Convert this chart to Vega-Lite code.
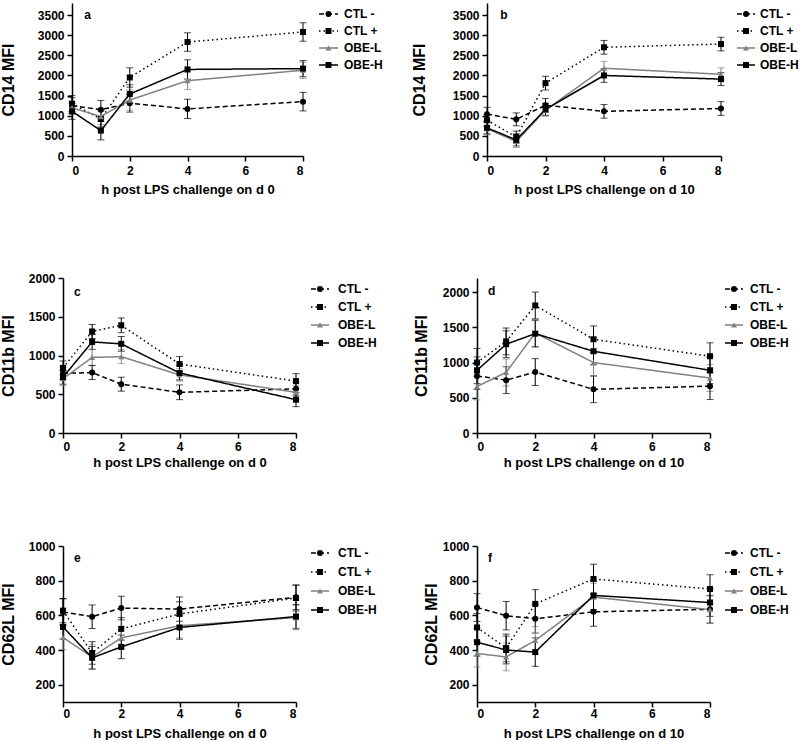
{
"$schema": "https://vega.github.io/schema/vega-lite/v6.json",
"padding": {"left": 0, "top": 3, "right": 0, "bottom": 0},
"background": "white",
"config": {
  "view": {"stroke": null},
  "font": "Liberation Sans",
  "axis": {"grid": false, "domainColor": "#000", "domainWidth": 1.5, "tickColor": "#000", "tickWidth": 1.5, "tickSize": 5, "labelColor": "#000", "labelFontSize": 12, "labelFontWeight": "bold", "labelFont": "Liberation Sans", "titleColor": "#000", "titleFont": "Liberation Sans", "titleFontWeight": "bold", "labelOverlap": false},
  "axisX": {"titleFontSize": 13, "labelAngle": 0},
  "axisY": {"titleFontSize": 16, "labelPadding": 3, "format": "d"}
},
"datasets": {
  "lg": [{"s": "CTL -", "o": 0}, {"s": "CTL +", "o": 1}, {"s": "OBE-L", "o": 2}, {"s": "OBE-H", "o": 3}],
  "sp": [{"k": 0}],
  "d": [
    {"p":"a","s":"CTL -","h":0,"v":1250,"e":200},{"p":"a","s":"CTL -","h":1,"v":1150,"e":230},{"p":"a","s":"CTL -","h":2,"v":1310,"e":220},{"p":"a","s":"CTL -","h":4,"v":1170,"e":240},{"p":"a","s":"CTL -","h":8,"v":1350,"e":230},
    {"p":"a","s":"CTL +","h":0,"v":1300,"e":200},{"p":"a","s":"CTL +","h":1,"v":920,"e":200},{"p":"a","s":"CTL +","h":2,"v":1950,"e":240},{"p":"a","s":"CTL +","h":4,"v":2830,"e":230},{"p":"a","s":"CTL +","h":8,"v":3080,"e":230},
    {"p":"a","s":"OBE-L","h":0,"v":1200,"e":150},{"p":"a","s":"OBE-L","h":1,"v":980,"e":200},{"p":"a","s":"OBE-L","h":2,"v":1390,"e":250},{"p":"a","s":"OBE-L","h":4,"v":1870,"e":220},{"p":"a","s":"OBE-L","h":8,"v":2130,"e":200},
    {"p":"a","s":"OBE-H","h":0,"v":1110,"e":200},{"p":"a","s":"OBE-H","h":1,"v":630,"e":230},{"p":"a","s":"OBE-H","h":2,"v":1540,"e":230},{"p":"a","s":"OBE-H","h":4,"v":2150,"e":240},{"p":"a","s":"OBE-H","h":8,"v":2170,"e":200},
    {"p":"b","s":"CTL -","h":0,"v":1040,"e":170},{"p":"b","s":"CTL -","h":1,"v":910,"e":160},{"p":"b","s":"CTL -","h":2,"v":1260,"e":170},{"p":"b","s":"CTL -","h":4,"v":1110,"e":170},{"p":"b","s":"CTL -","h":8,"v":1180,"e":170},
    {"p":"b","s":"CTL +","h":0,"v":890,"e":150},{"p":"b","s":"CTL +","h":1,"v":470,"e":150},{"p":"b","s":"CTL +","h":2,"v":1810,"e":170},{"p":"b","s":"CTL +","h":4,"v":2700,"e":170},{"p":"b","s":"CTL +","h":8,"v":2780,"e":170},
    {"p":"b","s":"OBE-L","h":0,"v":680,"e":150},{"p":"b","s":"OBE-L","h":1,"v":360,"e":150},{"p":"b","s":"OBE-L","h":2,"v":1140,"e":150},{"p":"b","s":"OBE-L","h":4,"v":2180,"e":170},{"p":"b","s":"OBE-L","h":8,"v":2030,"e":160},
    {"p":"b","s":"OBE-H","h":0,"v":700,"e":150},{"p":"b","s":"OBE-H","h":1,"v":400,"e":150},{"p":"b","s":"OBE-H","h":2,"v":1160,"e":150},{"p":"b","s":"OBE-H","h":4,"v":2000,"e":170},{"p":"b","s":"OBE-H","h":8,"v":1910,"e":160},
    {"p":"c","s":"CTL -","h":0,"v":770,"e":80},{"p":"c","s":"CTL -","h":1,"v":780,"e":90},{"p":"c","s":"CTL -","h":2,"v":630,"e":90},{"p":"c","s":"CTL -","h":4,"v":525,"e":95},{"p":"c","s":"CTL -","h":8,"v":570,"e":90},
    {"p":"c","s":"CTL +","h":0,"v":840,"e":90},{"p":"c","s":"CTL +","h":1,"v":1310,"e":90},{"p":"c","s":"CTL +","h":2,"v":1390,"e":95},{"p":"c","s":"CTL +","h":4,"v":890,"e":95},{"p":"c","s":"CTL +","h":8,"v":670,"e":95},
    {"p":"c","s":"OBE-L","h":0,"v":700,"e":90},{"p":"c","s":"OBE-L","h":1,"v":975,"e":100},{"p":"c","s":"OBE-L","h":2,"v":985,"e":90},{"p":"c","s":"OBE-L","h":4,"v":750,"e":80},{"p":"c","s":"OBE-L","h":8,"v":525,"e":90},
    {"p":"c","s":"OBE-H","h":0,"v":720,"e":90},{"p":"c","s":"OBE-H","h":1,"v":1175,"e":95},{"p":"c","s":"OBE-H","h":2,"v":1150,"e":95},{"p":"c","s":"OBE-H","h":4,"v":775,"e":90},{"p":"c","s":"OBE-H","h":8,"v":430,"e":90},
    {"p":"d","s":"CTL -","h":0,"v":810,"e":190},{"p":"d","s":"CTL -","h":1,"v":750,"e":190},{"p":"d","s":"CTL -","h":2,"v":865,"e":190},{"p":"d","s":"CTL -","h":4,"v":620,"e":190},{"p":"d","s":"CTL -","h":8,"v":665,"e":190},
    {"p":"d","s":"CTL +","h":0,"v":1000,"e":200},{"p":"d","s":"CTL +","h":1,"v":1300,"e":190},{"p":"d","s":"CTL +","h":2,"v":1810,"e":190},{"p":"d","s":"CTL +","h":4,"v":1330,"e":190},{"p":"d","s":"CTL +","h":8,"v":1090,"e":190},
    {"p":"d","s":"OBE-L","h":0,"v":660,"e":190},{"p":"d","s":"OBE-L","h":1,"v":860,"e":190},{"p":"d","s":"OBE-L","h":2,"v":1420,"e":190},{"p":"d","s":"OBE-L","h":4,"v":1000,"e":190},{"p":"d","s":"OBE-L","h":8,"v":780,"e":190},
    {"p":"d","s":"OBE-H","h":0,"v":890,"e":190},{"p":"d","s":"OBE-H","h":1,"v":1260,"e":190},{"p":"d","s":"OBE-H","h":2,"v":1410,"e":190},{"p":"d","s":"OBE-H","h":4,"v":1160,"e":190},{"p":"d","s":"OBE-H","h":8,"v":890,"e":190},
    {"p":"e","s":"CTL -","h":0,"v":620,"e":75},{"p":"e","s":"CTL -","h":1,"v":592,"e":68},{"p":"e","s":"CTL -","h":2,"v":642,"e":68},{"p":"e","s":"CTL -","h":4,"v":636,"e":70},{"p":"e","s":"CTL -","h":8,"v":704,"e":70},
    {"p":"e","s":"CTL +","h":0,"v":627,"e":70},{"p":"e","s":"CTL +","h":1,"v":383,"e":65},{"p":"e","s":"CTL +","h":2,"v":522,"e":65},{"p":"e","s":"CTL +","h":4,"v":608,"e":70},{"p":"e","s":"CTL +","h":8,"v":700,"e":75},
    {"p":"e","s":"OBE-L","h":0,"v":472,"e":70},{"p":"e","s":"OBE-L","h":1,"v":360,"e":70},{"p":"e","s":"OBE-L","h":2,"v":470,"e":65},{"p":"e","s":"OBE-L","h":4,"v":540,"e":70},{"p":"e","s":"OBE-L","h":8,"v":587,"e":70},
    {"p":"e","s":"OBE-H","h":0,"v":533,"e":70},{"p":"e","s":"OBE-H","h":1,"v":355,"e":65},{"p":"e","s":"OBE-H","h":2,"v":418,"e":68},{"p":"e","s":"OBE-H","h":4,"v":530,"e":68},{"p":"e","s":"OBE-H","h":8,"v":593,"e":70},
    {"p":"f","s":"CTL -","h":0,"v":645,"e":80},{"p":"f","s":"CTL -","h":1,"v":598,"e":82},{"p":"f","s":"CTL -","h":2,"v":580,"e":82},{"p":"f","s":"CTL -","h":4,"v":620,"e":83},{"p":"f","s":"CTL -","h":8,"v":635,"e":80},
    {"p":"f","s":"CTL +","h":0,"v":530,"e":80},{"p":"f","s":"CTL +","h":1,"v":412,"e":80},{"p":"f","s":"CTL +","h":2,"v":666,"e":82},{"p":"f","s":"CTL +","h":4,"v":810,"e":85},{"p":"f","s":"CTL +","h":8,"v":752,"e":82},
    {"p":"f","s":"OBE-L","h":0,"v":380,"e":78},{"p":"f","s":"OBE-L","h":1,"v":360,"e":80},{"p":"f","s":"OBE-L","h":2,"v":455,"e":80},{"p":"f","s":"OBE-L","h":4,"v":705,"e":80},{"p":"f","s":"OBE-L","h":8,"v":633,"e":78},
    {"p":"f","s":"OBE-H","h":0,"v":445,"e":80},{"p":"f","s":"OBE-H","h":1,"v":400,"e":80},{"p":"f","s":"OBE-H","h":2,"v":388,"e":82},{"p":"f","s":"OBE-H","h":4,"v":715,"e":82},{"p":"f","s":"OBE-H","h":8,"v":674,"e":80}
  ]
},
"columns": 1,
"align": "none",
"spacing": 60,
"concat": [
 {"hconcat": [
  {"width": 9, "height": 10, "data": {"name": "sp"}, "mark": {"type": "point", "opacity": 0}, "encoding": {}},
  {"width": 231, "height": 153,
   "layer": [
    {"data": {"name": "d"}, "transform": [{"filter": "datum.p == 'a'"}],
     "encoding": {
       "x": {"field": "h", "type": "quantitative", "scale": {"domain": [0, 8], "nice": false, "zero": false}, "axis": {"values": [0, 2, 4, 6, 8], "title": "h post LPS challenge on d 0", "labelPadding": 4, "titlePadding": 7}},
       "y": {"field": "v", "type": "quantitative", "scale": {"domain": [0, 3800], "nice": false, "zero": false}, "axis": {"values": [0, 500, 1000, 1500, 2000, 2500, 3000, 3500], "title": "CD14 MFI", "titlePadding": 21}},
       "color": {"field": "s", "type": "nominal", "scale": {"domain": ["CTL -", "CTL +", "OBE-L", "OBE-H"], "range": ["#000000", "#000000", "#808080", "#000000"]}, "legend": null}},
     "layer": [
       {"mark": {"type": "errorbar", "ticks": {"size": 7, "thickness": 1}, "thickness": 1}, "encoding": {"yError": {"field": "e"}}},
       {"mark": {"type": "line", "strokeWidth": 1.5}, "encoding": {"strokeDash": {"field": "s", "type": "nominal", "scale": {"domain": ["CTL -", "CTL +", "OBE-L", "OBE-H"], "range": [[5, 3], [1.5, 3], [1, 0], [1, 0]]}, "legend": null}}},
       {"mark": {"type": "point", "filled": true, "opacity": 1, "size": 36}, "encoding": {"shape": {"field": "s", "type": "nominal", "scale": {"domain": ["CTL -", "CTL +", "OBE-L", "OBE-H"], "range": ["circle", "square", "triangle-up", "square"]}, "legend": null}}}
     ]},
    {"data": {"values": [{"t": "a"}]}, "mark": {"type": "text", "align": "left", "baseline": "middle", "fontSize": 12, "fontWeight": "bold", "color": "#000"},
     "encoding": {"x": {"datum": 0.42, "type": "quantitative", "axis": {"values": [0, 2, 4, 6, 8], "title": "h post LPS challenge on d 0", "labelPadding": 4, "titlePadding": 7}}, "y": {"datum": 3500, "type": "quantitative", "axis": {"values": [0, 500, 1000, 1500, 2000, 2500, 3000, 3500], "title": "CD14 MFI", "titlePadding": 21}}, "text": {"field": "t"}}}
   ]},
  {"width": 152, "height": 209, "data": {"name": "lg"},
   "encoding": {"y": {"field": "o", "type": "quantitative", "scale": {"domain": [-0.647, 11.647], "reverse": true, "nice": false, "zero": false}, "axis": null},
     "color": {"field": "s", "type": "nominal", "scale": {"domain": ["CTL -", "CTL +", "OBE-L", "OBE-H"], "range": ["#000000", "#000000", "#808080", "#000000"]}, "legend": null}},
   "layer": [
     {"mark": {"type": "rule", "strokeWidth": 1.5}, "encoding": {"x": {"datum": 0, "type": "quantitative", "scale": {"domain": [0, 152], "nice": false, "zero": false}, "axis": null}, "x2": {"datum": 19}, "strokeDash": {"field": "s", "type": "nominal", "scale": {"domain": ["CTL -", "CTL +", "OBE-L", "OBE-H"], "range": [[5, 3], [1.5, 3], [1, 0], [1, 0]]}, "legend": null}}},
     {"mark": {"type": "point", "filled": true, "opacity": 1, "size": 36}, "encoding": {"x": {"datum": 9.5, "type": "quantitative", "axis": null}, "shape": {"field": "s", "type": "nominal", "scale": {"domain": ["CTL -", "CTL +", "OBE-L", "OBE-H"], "range": ["circle", "square", "triangle-up", "square"]}, "legend": null}}},
     {"mark": {"type": "text", "align": "left", "baseline": "middle", "fontSize": 12, "fontWeight": "bold", "color": "#000"}, "encoding": {"x": {"datum": 25, "type": "quantitative", "axis": null}, "text": {"field": "s"}, "color": {"value": "#000"}}}
   ]},
  {"width": 234, "height": 153,
   "layer": [
    {"data": {"name": "d"}, "transform": [{"filter": "datum.p == 'b'"}],
     "encoding": {
       "x": {"field": "h", "type": "quantitative", "scale": {"domain": [0, 8], "nice": false, "zero": false}, "axis": {"values": [0, 2, 4, 6, 8], "title": "h post LPS challenge on d 10", "labelPadding": 4, "titlePadding": 7}},
       "y": {"field": "v", "type": "quantitative", "scale": {"domain": [0, 3800], "nice": false, "zero": false}, "axis": {"values": [0, 500, 1000, 1500, 2000, 2500, 3000, 3500], "title": "CD14 MFI", "titlePadding": 25}},
       "color": {"field": "s", "type": "nominal", "scale": {"domain": ["CTL -", "CTL +", "OBE-L", "OBE-H"], "range": ["#000000", "#000000", "#808080", "#000000"]}, "legend": null}},
     "layer": [
       {"mark": {"type": "errorbar", "ticks": {"size": 7, "thickness": 1}, "thickness": 1}, "encoding": {"yError": {"field": "e"}}},
       {"mark": {"type": "line", "strokeWidth": 1.5}, "encoding": {"strokeDash": {"field": "s", "type": "nominal", "scale": {"domain": ["CTL -", "CTL +", "OBE-L", "OBE-H"], "range": [[5, 3], [1.5, 3], [1, 0], [1, 0]]}, "legend": null}}},
       {"mark": {"type": "point", "filled": true, "opacity": 1, "size": 36}, "encoding": {"shape": {"field": "s", "type": "nominal", "scale": {"domain": ["CTL -", "CTL +", "OBE-L", "OBE-H"], "range": ["circle", "square", "triangle-up", "square"]}, "legend": null}}}
     ]},
    {"data": {"values": [{"t": "b"}]}, "mark": {"type": "text", "align": "left", "baseline": "middle", "fontSize": 12, "fontWeight": "bold", "color": "#000"},
     "encoding": {"x": {"datum": 0.45, "type": "quantitative", "axis": {"values": [0, 2, 4, 6, 8], "title": "h post LPS challenge on d 10", "labelPadding": 4, "titlePadding": 7}}, "y": {"datum": 3500, "type": "quantitative", "axis": {"values": [0, 500, 1000, 1500, 2000, 2500, 3000, 3500], "title": "CD14 MFI", "titlePadding": 25}}, "text": {"field": "t"}}}
   ]},
  {"width": 58, "height": 209, "data": {"name": "lg"},
   "encoding": {"y": {"field": "o", "type": "quantitative", "scale": {"domain": [-0.647, 11.647], "reverse": true, "nice": false, "zero": false}, "axis": null},
     "color": {"field": "s", "type": "nominal", "scale": {"domain": ["CTL -", "CTL +", "OBE-L", "OBE-H"], "range": ["#000000", "#000000", "#808080", "#000000"]}, "legend": null}},
   "layer": [
     {"mark": {"type": "rule", "strokeWidth": 1.5}, "encoding": {"x": {"datum": 0, "type": "quantitative", "scale": {"domain": [0, 58], "nice": false, "zero": false}, "axis": null}, "x2": {"datum": 18}, "strokeDash": {"field": "s", "type": "nominal", "scale": {"domain": ["CTL -", "CTL +", "OBE-L", "OBE-H"], "range": [[5, 3], [1.5, 3], [1, 0], [1, 0]]}, "legend": null}}},
     {"mark": {"type": "point", "filled": true, "opacity": 1, "size": 36}, "encoding": {"x": {"datum": 9, "type": "quantitative", "axis": null}, "shape": {"field": "s", "type": "nominal", "scale": {"domain": ["CTL -", "CTL +", "OBE-L", "OBE-H"], "range": ["circle", "square", "triangle-up", "square"]}, "legend": null}}},
     {"mark": {"type": "text", "align": "left", "baseline": "middle", "fontSize": 12, "fontWeight": "bold", "color": "#000"}, "encoding": {"x": {"datum": 23, "type": "quantitative", "axis": null}, "text": {"field": "s"}, "color": {"value": "#000"}}}
   ]}
 ], "spacing": 16, "bounds": "flush"},
 {"hconcat": [
  {"width": 1, "height": 10, "data": {"name": "sp"}, "mark": {"type": "point", "opacity": 0}, "encoding": {}},
  {"width": 233, "height": 155,
   "layer": [
    {"data": {"name": "d"}, "transform": [{"filter": "datum.p == 'c'"}],
     "encoding": {
       "x": {"field": "h", "type": "quantitative", "scale": {"domain": [0, 8], "nice": false, "zero": false}, "axis": {"values": [0, 2, 4, 6, 8], "title": "h post LPS challenge on d 0", "labelPadding": 3, "titlePadding": 4}},
       "y": {"field": "v", "type": "quantitative", "scale": {"domain": [0, 2000], "nice": false, "zero": false}, "axis": {"values": [0, 500, 1000, 1500, 2000], "title": "CD11b MFI", "titlePadding": 12}},
       "color": {"field": "s", "type": "nominal", "scale": {"domain": ["CTL -", "CTL +", "OBE-L", "OBE-H"], "range": ["#000000", "#000000", "#808080", "#000000"]}, "legend": null}},
     "layer": [
       {"mark": {"type": "errorbar", "ticks": {"size": 7, "thickness": 1}, "thickness": 1}, "encoding": {"yError": {"field": "e"}}},
       {"mark": {"type": "line", "strokeWidth": 1.5}, "encoding": {"strokeDash": {"field": "s", "type": "nominal", "scale": {"domain": ["CTL -", "CTL +", "OBE-L", "OBE-H"], "range": [[5, 3], [1.5, 3], [1, 0], [1, 0]]}, "legend": null}}},
       {"mark": {"type": "point", "filled": true, "opacity": 1, "size": 36}, "encoding": {"shape": {"field": "s", "type": "nominal", "scale": {"domain": ["CTL -", "CTL +", "OBE-L", "OBE-H"], "range": ["circle", "square", "triangle-up", "square"]}, "legend": null}}}
     ]},
    {"data": {"values": [{"t": "c"}]}, "mark": {"type": "text", "align": "left", "baseline": "middle", "fontSize": 12, "fontWeight": "bold", "color": "#000"},
     "encoding": {"x": {"datum": 0.38, "type": "quantitative", "axis": {"values": [0, 2, 4, 6, 8], "title": "h post LPS challenge on d 0", "labelPadding": 3, "titlePadding": 4}}, "y": {"datum": 1820, "type": "quantitative", "axis": {"values": [0, 500, 1000, 1500, 2000], "title": "CD11b MFI", "titlePadding": 12}}, "text": {"field": "t"}}}
   ]},
  {"width": 151, "height": 202, "data": {"name": "lg"},
   "encoding": {"y": {"field": "o", "type": "quantitative", "scale": {"domain": [-0.611, 10.611], "reverse": true, "nice": false, "zero": false}, "axis": null},
     "color": {"field": "s", "type": "nominal", "scale": {"domain": ["CTL -", "CTL +", "OBE-L", "OBE-H"], "range": ["#000000", "#000000", "#808080", "#000000"]}, "legend": null}},
   "layer": [
     {"mark": {"type": "rule", "strokeWidth": 1.5}, "encoding": {"x": {"datum": 0, "type": "quantitative", "scale": {"domain": [0, 151], "nice": false, "zero": false}, "axis": null}, "x2": {"datum": 18}, "strokeDash": {"field": "s", "type": "nominal", "scale": {"domain": ["CTL -", "CTL +", "OBE-L", "OBE-H"], "range": [[5, 3], [1.5, 3], [1, 0], [1, 0]]}, "legend": null}}},
     {"mark": {"type": "point", "filled": true, "opacity": 1, "size": 36}, "encoding": {"x": {"datum": 9, "type": "quantitative", "axis": null}, "shape": {"field": "s", "type": "nominal", "scale": {"domain": ["CTL -", "CTL +", "OBE-L", "OBE-H"], "range": ["circle", "square", "triangle-up", "square"]}, "legend": null}}},
     {"mark": {"type": "text", "align": "left", "baseline": "middle", "fontSize": 12, "fontWeight": "bold", "color": "#000"}, "encoding": {"x": {"datum": 27, "type": "quantitative", "axis": null}, "text": {"field": "s"}, "color": {"value": "#000"}}}
   ]},
  {"width": 233, "height": 155,
   "layer": [
    {"data": {"name": "d"}, "transform": [{"filter": "datum.p == 'd'"}],
     "encoding": {
       "x": {"field": "h", "type": "quantitative", "scale": {"domain": [0, 8], "nice": false, "zero": false}, "axis": {"values": [0, 2, 4, 6, 8], "title": "h post LPS challenge on d 10", "labelPadding": 3, "titlePadding": 4}},
       "y": {"field": "v", "type": "quantitative", "scale": {"domain": [0, 2200], "nice": false, "zero": false}, "axis": {"values": [0, 500, 1000, 1500, 2000], "title": "CD11b MFI", "titlePadding": 13}},
       "color": {"field": "s", "type": "nominal", "scale": {"domain": ["CTL -", "CTL +", "OBE-L", "OBE-H"], "range": ["#000000", "#000000", "#808080", "#000000"]}, "legend": null}},
     "layer": [
       {"mark": {"type": "errorbar", "ticks": {"size": 7, "thickness": 1}, "thickness": 1}, "encoding": {"yError": {"field": "e"}}},
       {"mark": {"type": "line", "strokeWidth": 1.5}, "encoding": {"strokeDash": {"field": "s", "type": "nominal", "scale": {"domain": ["CTL -", "CTL +", "OBE-L", "OBE-H"], "range": [[5, 3], [1.5, 3], [1, 0], [1, 0]]}, "legend": null}}},
       {"mark": {"type": "point", "filled": true, "opacity": 1, "size": 36}, "encoding": {"shape": {"field": "s", "type": "nominal", "scale": {"domain": ["CTL -", "CTL +", "OBE-L", "OBE-H"], "range": ["circle", "square", "triangle-up", "square"]}, "legend": null}}}
     ]},
    {"data": {"values": [{"t": "d"}]}, "mark": {"type": "text", "align": "left", "baseline": "middle", "fontSize": 12, "fontWeight": "bold", "color": "#000"},
     "encoding": {"x": {"datum": 0.38, "type": "quantitative", "axis": {"values": [0, 2, 4, 6, 8], "title": "h post LPS challenge on d 10", "labelPadding": 3, "titlePadding": 4}}, "y": {"datum": 2015, "type": "quantitative", "axis": {"values": [0, 500, 1000, 1500, 2000], "title": "CD11b MFI", "titlePadding": 13}}, "text": {"field": "t"}}}
   ]},
  {"width": 66, "height": 202, "data": {"name": "lg"},
   "encoding": {"y": {"field": "o", "type": "quantitative", "scale": {"domain": [-0.611, 10.611], "reverse": true, "nice": false, "zero": false}, "axis": null},
     "color": {"field": "s", "type": "nominal", "scale": {"domain": ["CTL -", "CTL +", "OBE-L", "OBE-H"], "range": ["#000000", "#000000", "#808080", "#000000"]}, "legend": null}},
   "layer": [
     {"mark": {"type": "rule", "strokeWidth": 1.5}, "encoding": {"x": {"datum": 0, "type": "quantitative", "scale": {"domain": [0, 66], "nice": false, "zero": false}, "axis": null}, "x2": {"datum": 18}, "strokeDash": {"field": "s", "type": "nominal", "scale": {"domain": ["CTL -", "CTL +", "OBE-L", "OBE-H"], "range": [[5, 3], [1.5, 3], [1, 0], [1, 0]]}, "legend": null}}},
     {"mark": {"type": "point", "filled": true, "opacity": 1, "size": 36}, "encoding": {"x": {"datum": 9, "type": "quantitative", "axis": null}, "shape": {"field": "s", "type": "nominal", "scale": {"domain": ["CTL -", "CTL +", "OBE-L", "OBE-H"], "range": ["circle", "square", "triangle-up", "square"]}, "legend": null}}},
     {"mark": {"type": "text", "align": "left", "baseline": "middle", "fontSize": 12, "fontWeight": "bold", "color": "#000"}, "encoding": {"x": {"datum": 25, "type": "quantitative", "axis": null}, "text": {"field": "s"}, "color": {"value": "#000"}}}
   ]}
 ], "spacing": 15, "bounds": "flush"},
 {"hconcat": [
  {"width": 1, "height": 10, "data": {"name": "sp"}, "mark": {"type": "point", "opacity": 0}, "encoding": {}},
  {"width": 233, "height": 156,
   "layer": [
    {"data": {"name": "d"}, "transform": [{"filter": "datum.p == 'e'"}],
     "encoding": {
       "x": {"field": "h", "type": "quantitative", "scale": {"domain": [0, 8], "nice": false, "zero": false}, "axis": {"values": [0, 2, 4, 6, 8], "title": "h post LPS challenge on d 0", "labelPadding": 1, "titlePadding": 8}},
       "y": {"field": "v", "type": "quantitative", "scale": {"domain": [100, 1000], "nice": false, "zero": false}, "axis": {"values": [200, 400, 600, 800, 1000], "title": "CD62L MFI", "titlePadding": 12}},
       "color": {"field": "s", "type": "nominal", "scale": {"domain": ["CTL -", "CTL +", "OBE-L", "OBE-H"], "range": ["#000000", "#000000", "#808080", "#000000"]}, "legend": null}},
     "layer": [
       {"mark": {"type": "errorbar", "ticks": {"size": 7, "thickness": 1}, "thickness": 1}, "encoding": {"yError": {"field": "e"}}},
       {"mark": {"type": "line", "strokeWidth": 1.5}, "encoding": {"strokeDash": {"field": "s", "type": "nominal", "scale": {"domain": ["CTL -", "CTL +", "OBE-L", "OBE-H"], "range": [[5, 3], [1.5, 3], [1, 0], [1, 0]]}, "legend": null}}},
       {"mark": {"type": "point", "filled": true, "opacity": 1, "size": 36}, "encoding": {"shape": {"field": "s", "type": "nominal", "scale": {"domain": ["CTL -", "CTL +", "OBE-L", "OBE-H"], "range": ["circle", "square", "triangle-up", "square"]}, "legend": null}}}
     ]},
    {"data": {"values": [{"t": "e"}]}, "mark": {"type": "text", "align": "left", "baseline": "middle", "fontSize": 12, "fontWeight": "bold", "color": "#000"},
     "encoding": {"x": {"datum": 0.38, "type": "quantitative", "axis": {"values": [0, 2, 4, 6, 8], "title": "h post LPS challenge on d 0", "labelPadding": 1, "titlePadding": 8}}, "y": {"datum": 931, "type": "quantitative", "axis": {"values": [200, 400, 600, 800, 1000], "title": "CD62L MFI", "titlePadding": 12}}, "text": {"field": "t"}}}
   ]},
  {"width": 151, "height": 75, "data": {"name": "lg"},
   "encoding": {"y": {"field": "o", "type": "quantitative", "scale": {"domain": [-0.368, 3.579], "reverse": true, "nice": false, "zero": false}, "axis": null},
     "color": {"field": "s", "type": "nominal", "scale": {"domain": ["CTL -", "CTL +", "OBE-L", "OBE-H"], "range": ["#000000", "#000000", "#808080", "#000000"]}, "legend": null}},
   "layer": [
     {"mark": {"type": "rule", "strokeWidth": 1.5}, "encoding": {"x": {"datum": 0, "type": "quantitative", "scale": {"domain": [0, 151], "nice": false, "zero": false}, "axis": null}, "x2": {"datum": 18}, "strokeDash": {"field": "s", "type": "nominal", "scale": {"domain": ["CTL -", "CTL +", "OBE-L", "OBE-H"], "range": [[5, 3], [1.5, 3], [1, 0], [1, 0]]}, "legend": null}}},
     {"mark": {"type": "point", "filled": true, "opacity": 1, "size": 36}, "encoding": {"x": {"datum": 9, "type": "quantitative", "axis": null}, "shape": {"field": "s", "type": "nominal", "scale": {"domain": ["CTL -", "CTL +", "OBE-L", "OBE-H"], "range": ["circle", "square", "triangle-up", "square"]}, "legend": null}}},
     {"mark": {"type": "text", "align": "left", "baseline": "middle", "fontSize": 12, "fontWeight": "bold", "color": "#000"}, "encoding": {"x": {"datum": 27, "type": "quantitative", "axis": null}, "text": {"field": "s"}, "color": {"value": "#000"}}}
   ]},
  {"width": 233, "height": 156,
   "layer": [
    {"data": {"name": "d"}, "transform": [{"filter": "datum.p == 'f'"}],
     "encoding": {
       "x": {"field": "h", "type": "quantitative", "scale": {"domain": [0, 8], "nice": false, "zero": false}, "axis": {"values": [0, 2, 4, 6, 8], "title": "h post LPS challenge on d 10", "labelPadding": 1, "titlePadding": 8}},
       "y": {"field": "v", "type": "quantitative", "scale": {"domain": [100, 1000], "nice": false, "zero": false}, "axis": {"values": [200, 400, 600, 800, 1000], "title": "CD62L MFI", "titlePadding": 3}},
       "color": {"field": "s", "type": "nominal", "scale": {"domain": ["CTL -", "CTL +", "OBE-L", "OBE-H"], "range": ["#000000", "#000000", "#808080", "#000000"]}, "legend": null}},
     "layer": [
       {"mark": {"type": "errorbar", "ticks": {"size": 7, "thickness": 1}, "thickness": 1}, "encoding": {"yError": {"field": "e"}}},
       {"mark": {"type": "line", "strokeWidth": 1.5}, "encoding": {"strokeDash": {"field": "s", "type": "nominal", "scale": {"domain": ["CTL -", "CTL +", "OBE-L", "OBE-H"], "range": [[5, 3], [1.5, 3], [1, 0], [1, 0]]}, "legend": null}}},
       {"mark": {"type": "point", "filled": true, "opacity": 1, "size": 36}, "encoding": {"shape": {"field": "s", "type": "nominal", "scale": {"domain": ["CTL -", "CTL +", "OBE-L", "OBE-H"], "range": ["circle", "square", "triangle-up", "square"]}, "legend": null}}}
     ]},
    {"data": {"values": [{"t": "f"}]}, "mark": {"type": "text", "align": "left", "baseline": "middle", "fontSize": 12, "fontWeight": "bold", "color": "#000"},
     "encoding": {"x": {"datum": 0.38, "type": "quantitative", "axis": {"values": [0, 2, 4, 6, 8], "title": "h post LPS challenge on d 10", "labelPadding": 1, "titlePadding": 8}}, "y": {"datum": 931, "type": "quantitative", "axis": {"values": [200, 400, 600, 800, 1000], "title": "CD62L MFI", "titlePadding": 3}}, "text": {"field": "t"}}}
   ]},
  {"width": 66, "height": 75, "data": {"name": "lg"},
   "encoding": {"y": {"field": "o", "type": "quantitative", "scale": {"domain": [-0.368, 3.579], "reverse": true, "nice": false, "zero": false}, "axis": null},
     "color": {"field": "s", "type": "nominal", "scale": {"domain": ["CTL -", "CTL +", "OBE-L", "OBE-H"], "range": ["#000000", "#000000", "#808080", "#000000"]}, "legend": null}},
   "layer": [
     {"mark": {"type": "rule", "strokeWidth": 1.5}, "encoding": {"x": {"datum": 0, "type": "quantitative", "scale": {"domain": [0, 66], "nice": false, "zero": false}, "axis": null}, "x2": {"datum": 18}, "strokeDash": {"field": "s", "type": "nominal", "scale": {"domain": ["CTL -", "CTL +", "OBE-L", "OBE-H"], "range": [[5, 3], [1.5, 3], [1, 0], [1, 0]]}, "legend": null}}},
     {"mark": {"type": "point", "filled": true, "opacity": 1, "size": 36}, "encoding": {"x": {"datum": 9, "type": "quantitative", "axis": null}, "shape": {"field": "s", "type": "nominal", "scale": {"domain": ["CTL -", "CTL +", "OBE-L", "OBE-H"], "range": ["circle", "square", "triangle-up", "square"]}, "legend": null}}},
     {"mark": {"type": "text", "align": "left", "baseline": "middle", "fontSize": 12, "fontWeight": "bold", "color": "#000"}, "encoding": {"x": {"datum": 25, "type": "quantitative", "axis": null}, "text": {"field": "s"}, "color": {"value": "#000"}}}
   ]}
 ], "spacing": 15, "bounds": "flush"}
]
}
